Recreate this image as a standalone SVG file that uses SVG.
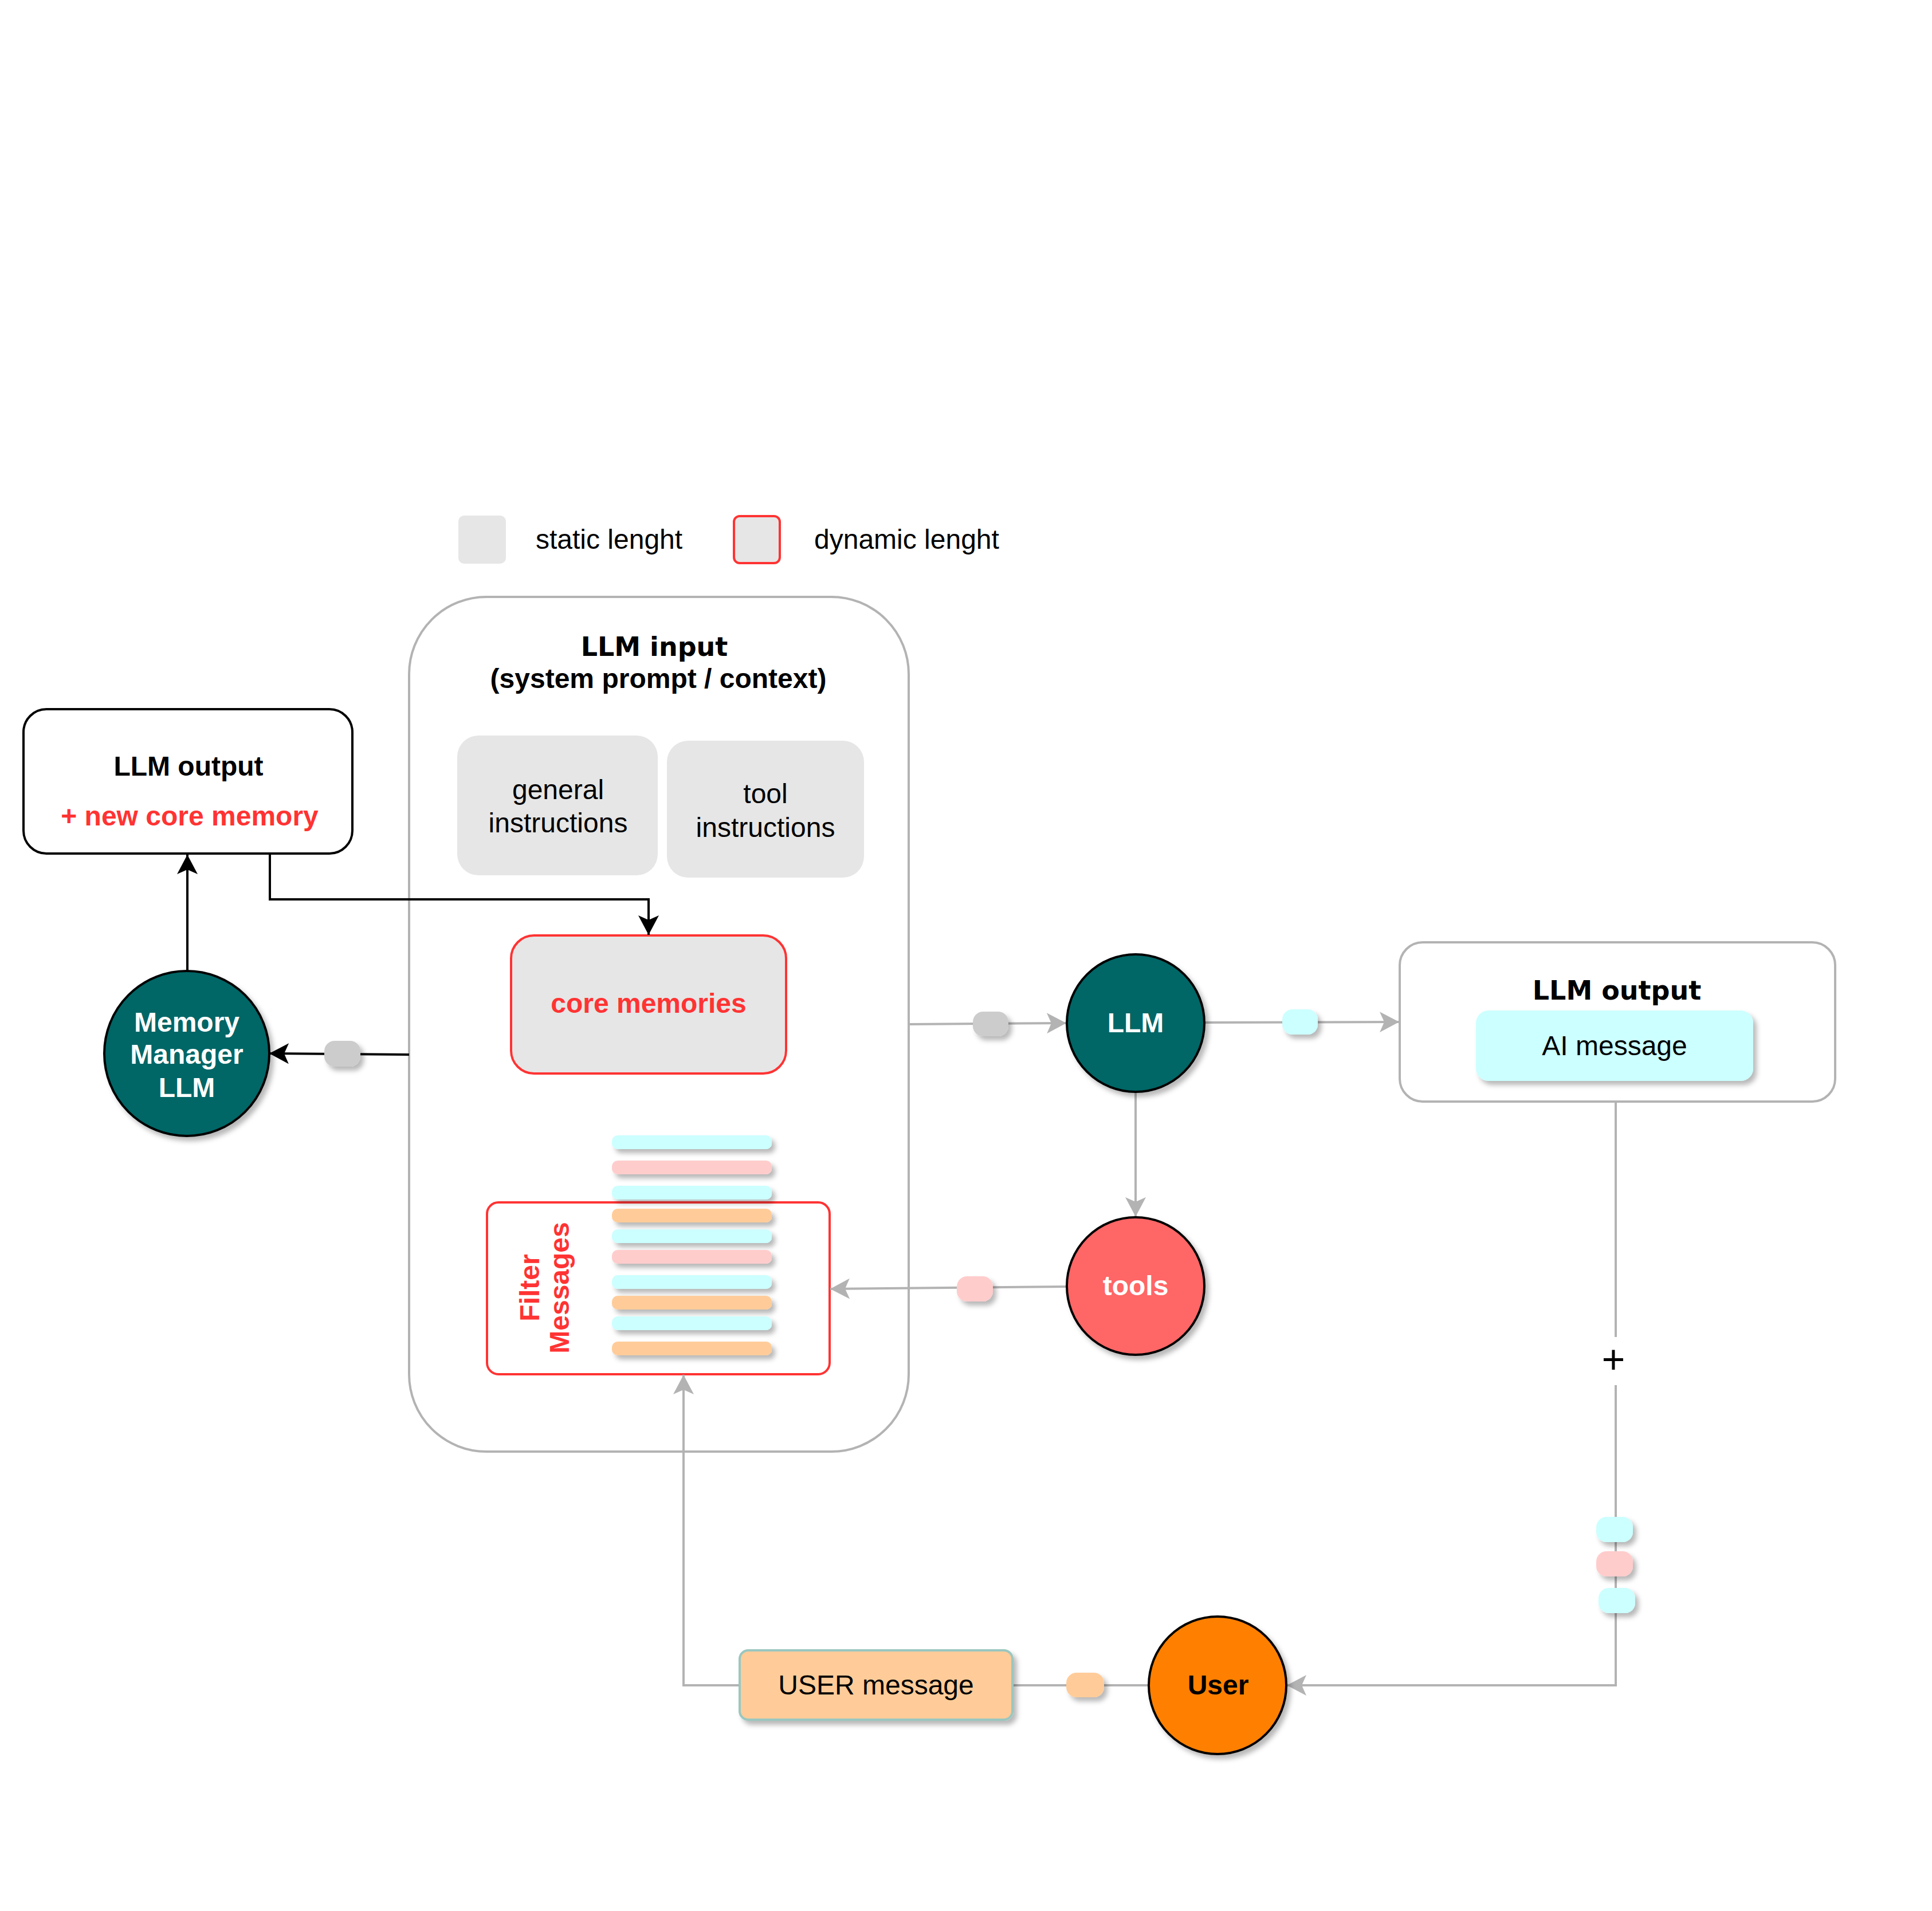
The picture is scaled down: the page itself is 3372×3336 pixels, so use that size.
<svg xmlns="http://www.w3.org/2000/svg" width="3372" height="3336" viewBox="0 0 3372 3336">
<style>
text{font-family:"Liberation Sans",Arial,Helvetica,sans-serif;font-size:48px}
.c{text-anchor:middle}
.b{font-weight:bold}
.red{fill:#ff3333}
.wh{fill:#ffffff}
.gl{fill:none;stroke:#b3b3b3;stroke-width:4}
.bl{fill:none;stroke:#000000;stroke-width:4}
.circ{stroke:#000000;stroke-width:4}
.ttl{font-family:"DejaVu Sans",Verdana,sans-serif;font-size:46px;font-weight:bold}
</style>
<defs>
<filter id="sh" x="-30%" y="-30%" width="170%" height="170%">
<feDropShadow dx="6" dy="7" stdDeviation="4" flood-color="#000000" flood-opacity="0.28"/>
</filter>
<marker id="ag" viewBox="0 0 34 36" refX="34" refY="18" markerWidth="34" markerHeight="36" markerUnits="userSpaceOnUse" orient="auto">
<path d="M0,0 L34,18 L0,36 L8,18 Z" fill="#b3b3b3"/>
</marker>
<marker id="ab" viewBox="0 0 34 36" refX="34" refY="18" markerWidth="34" markerHeight="36" markerUnits="userSpaceOnUse" orient="auto">
<path d="M0,0 L34,18 L0,36 L8,18 Z" fill="#000000"/>
</marker>
</defs>
<rect width="3372" height="3336" fill="#ffffff"/>

<g id="legend">
<rect x="800" y="900" width="83" height="84" rx="10" fill="#e6e6e6"/>
<text x="935" y="958">static lenght</text>
<rect x="1281" y="901" width="80" height="82" rx="10" fill="#e6e6e6" stroke="#ff3333" stroke-width="4"/>
<text x="1421" y="958">dynamic lenght</text>
</g>

<g id="llm-input">
<rect x="714" y="1042" width="872" height="1492" rx="135" fill="#ffffff" stroke="#b3b3b3" stroke-width="4"/>
<text class="c ttl" x="1142" y="1145">LLM input</text>
<text class="c b" x="1149" y="1201">(system prompt / context)</text>
</g>

<g id="general-instructions">
<rect x="798" y="1284" width="350" height="244" rx="37" fill="#e6e6e6"/>
<text class="c" x="974" y="1395">general</text>
<text class="c" x="974" y="1453">instructions</text>
</g>

<g id="tool-instructions">
<rect x="1164" y="1293" width="344" height="239" rx="37" fill="#e6e6e6"/>
<text class="c" x="1336" y="1402">tool</text>
<text class="c" x="1336" y="1461">instructions</text>
</g>

<g id="core-memories">
<rect x="892" y="1633" width="480" height="241" rx="40" fill="#e6e6e6" stroke="#ff3333" stroke-width="4"/>
<text class="c b red" x="1132" y="1768">core memories</text>
</g>

<g id="filter-messages">
<rect x="850" y="2099" width="598" height="300" rx="20" fill="#ffffff" stroke="#ff3333" stroke-width="4"/>
<text class="c b red" transform="translate(967,2248) rotate(-90)"><tspan x="0" y="-26">Filter</tspan><tspan x="0" y="26">Messages</tspan></text>
</g>

<g id="messages" filter="url(#sh)">
<rect x="1068" y="1982" width="279" height="24" rx="10" fill="#ccffff"/>
<rect x="1068" y="2026" width="279" height="24" rx="10" fill="#ffcccc"/>
<rect x="1068" y="2070" width="279" height="24" rx="10" fill="#ccffff"/>
<rect x="1068" y="2110" width="279" height="24" rx="10" fill="#ffcc99"/>
<rect x="1068" y="2146" width="279" height="24" rx="10" fill="#ccffff"/>
<rect x="1068" y="2182" width="279" height="24" rx="10" fill="#ffcccc"/>
<rect x="1068" y="2226" width="279" height="24" rx="10" fill="#ccffff"/>
<rect x="1068" y="2262" width="279" height="24" rx="10" fill="#ffcc99"/>
<rect x="1068" y="2298" width="279" height="24" rx="10" fill="#ccffff"/>
<rect x="1068" y="2342" width="279" height="24" rx="10" fill="#ffcc99"/>
</g>

<g id="connectors">
<path class="bl" d="M714,1841 L470,1839" marker-end="url(#ab)"/>
<path class="bl" d="M327,1695 L327,1492" marker-end="url(#ab)"/>
<path class="bl" d="M471,1490 V1570 H1132 V1632" marker-end="url(#ab)"/>
<path class="gl" d="M1586,1788 L1861,1786" marker-end="url(#ag)"/>
<path class="gl" d="M2102,1785 L2442,1784" marker-end="url(#ag)"/>
<path class="gl" d="M1982,1906 L1982,2124" marker-end="url(#ag)"/>
<path class="gl" d="M1862,2246 L1449,2250" marker-end="url(#ag)"/>
<path class="gl" d="M2820,1923 V2942 H2246" marker-end="url(#ag)"/>
<path class="gl" d="M2005,2942 H1767"/>
<path class="gl" d="M1291,2942 H1193 V2400" marker-end="url(#ag)"/>
<rect x="2788" y="2334" width="64" height="84" fill="#ffffff"/>
<text class="c" x="2816" y="2397" style="font-size:70px">+</text>
</g>

<g id="tokens" filter="url(#sh)">
<rect x="566" y="1817" width="63" height="45" rx="18" fill="#cccccc"/>
<rect x="1698" y="1766" width="62" height="43" rx="18" fill="#cccccc"/>
<rect x="2238" y="1762" width="62" height="44" rx="18" fill="#ccffff"/>
<rect x="1670" y="2228" width="63" height="44" rx="18" fill="#ffcccc"/>
<rect x="2786" y="2648" width="64" height="44" rx="18" fill="#ccffff"/>
<rect x="2786" y="2708" width="64" height="44" rx="18" fill="#ffcccc"/>
<rect x="2790" y="2772" width="64" height="44" rx="18" fill="#ccffff"/>
<rect x="1861" y="2920" width="66" height="43" rx="18" fill="#ffcc99"/>
</g>

<g id="llm-output-left">
<rect x="41" y="1238" width="574" height="252" rx="40" fill="#ffffff" stroke="#000000" stroke-width="4"/>
<text class="c b" x="329" y="1354">LLM output</text>
<text class="c b red" x="331" y="1441">+ new core memory</text>
</g>

<g id="memory-manager-llm">
<circle class="circ" cx="326" cy="1839" r="144" fill="#006666" filter="url(#sh)"/>
<text class="c b wh" x="326" y="1801">Memory</text>
<text class="c b wh" x="326" y="1857">Manager</text>
<text class="c b wh" x="326" y="1915">LLM</text>
</g>

<g id="llm">
<circle class="circ" cx="1982" cy="1786" r="120" fill="#006666" filter="url(#sh)"/>
<text class="c b wh" x="1982" y="1802">LLM</text>
</g>

<g id="tools">
<circle class="circ" cx="1982" cy="2245" r="120" fill="#ff6666" filter="url(#sh)"/>
<text class="c b wh" x="1982" y="2261">tools</text>
</g>

<g id="llm-output-right">
<rect x="2443" y="1645" width="760" height="278" rx="40" fill="#ffffff" stroke="#b3b3b3" stroke-width="4"/>
<text class="c ttl" x="2822" y="1745">LLM output</text>
<rect x="2576" y="1764" width="484" height="123" rx="22" fill="#ccffff" filter="url(#sh)"/>
<text class="c" x="2818" y="1842">AI message</text>
</g>

<g id="user">
<circle class="circ" cx="2125" cy="2942" r="120" fill="#ff8000" filter="url(#sh)"/>
<text class="c b" x="2126" y="2958">User</text>
</g>

<g id="user-message">
<rect x="1291" y="2881" width="476" height="121" rx="15" fill="#ffcc99" stroke="#9ac7bf" stroke-width="4" filter="url(#sh)"/>
<text class="c" x="1529" y="2958">USER message</text>
</g>
</svg>
